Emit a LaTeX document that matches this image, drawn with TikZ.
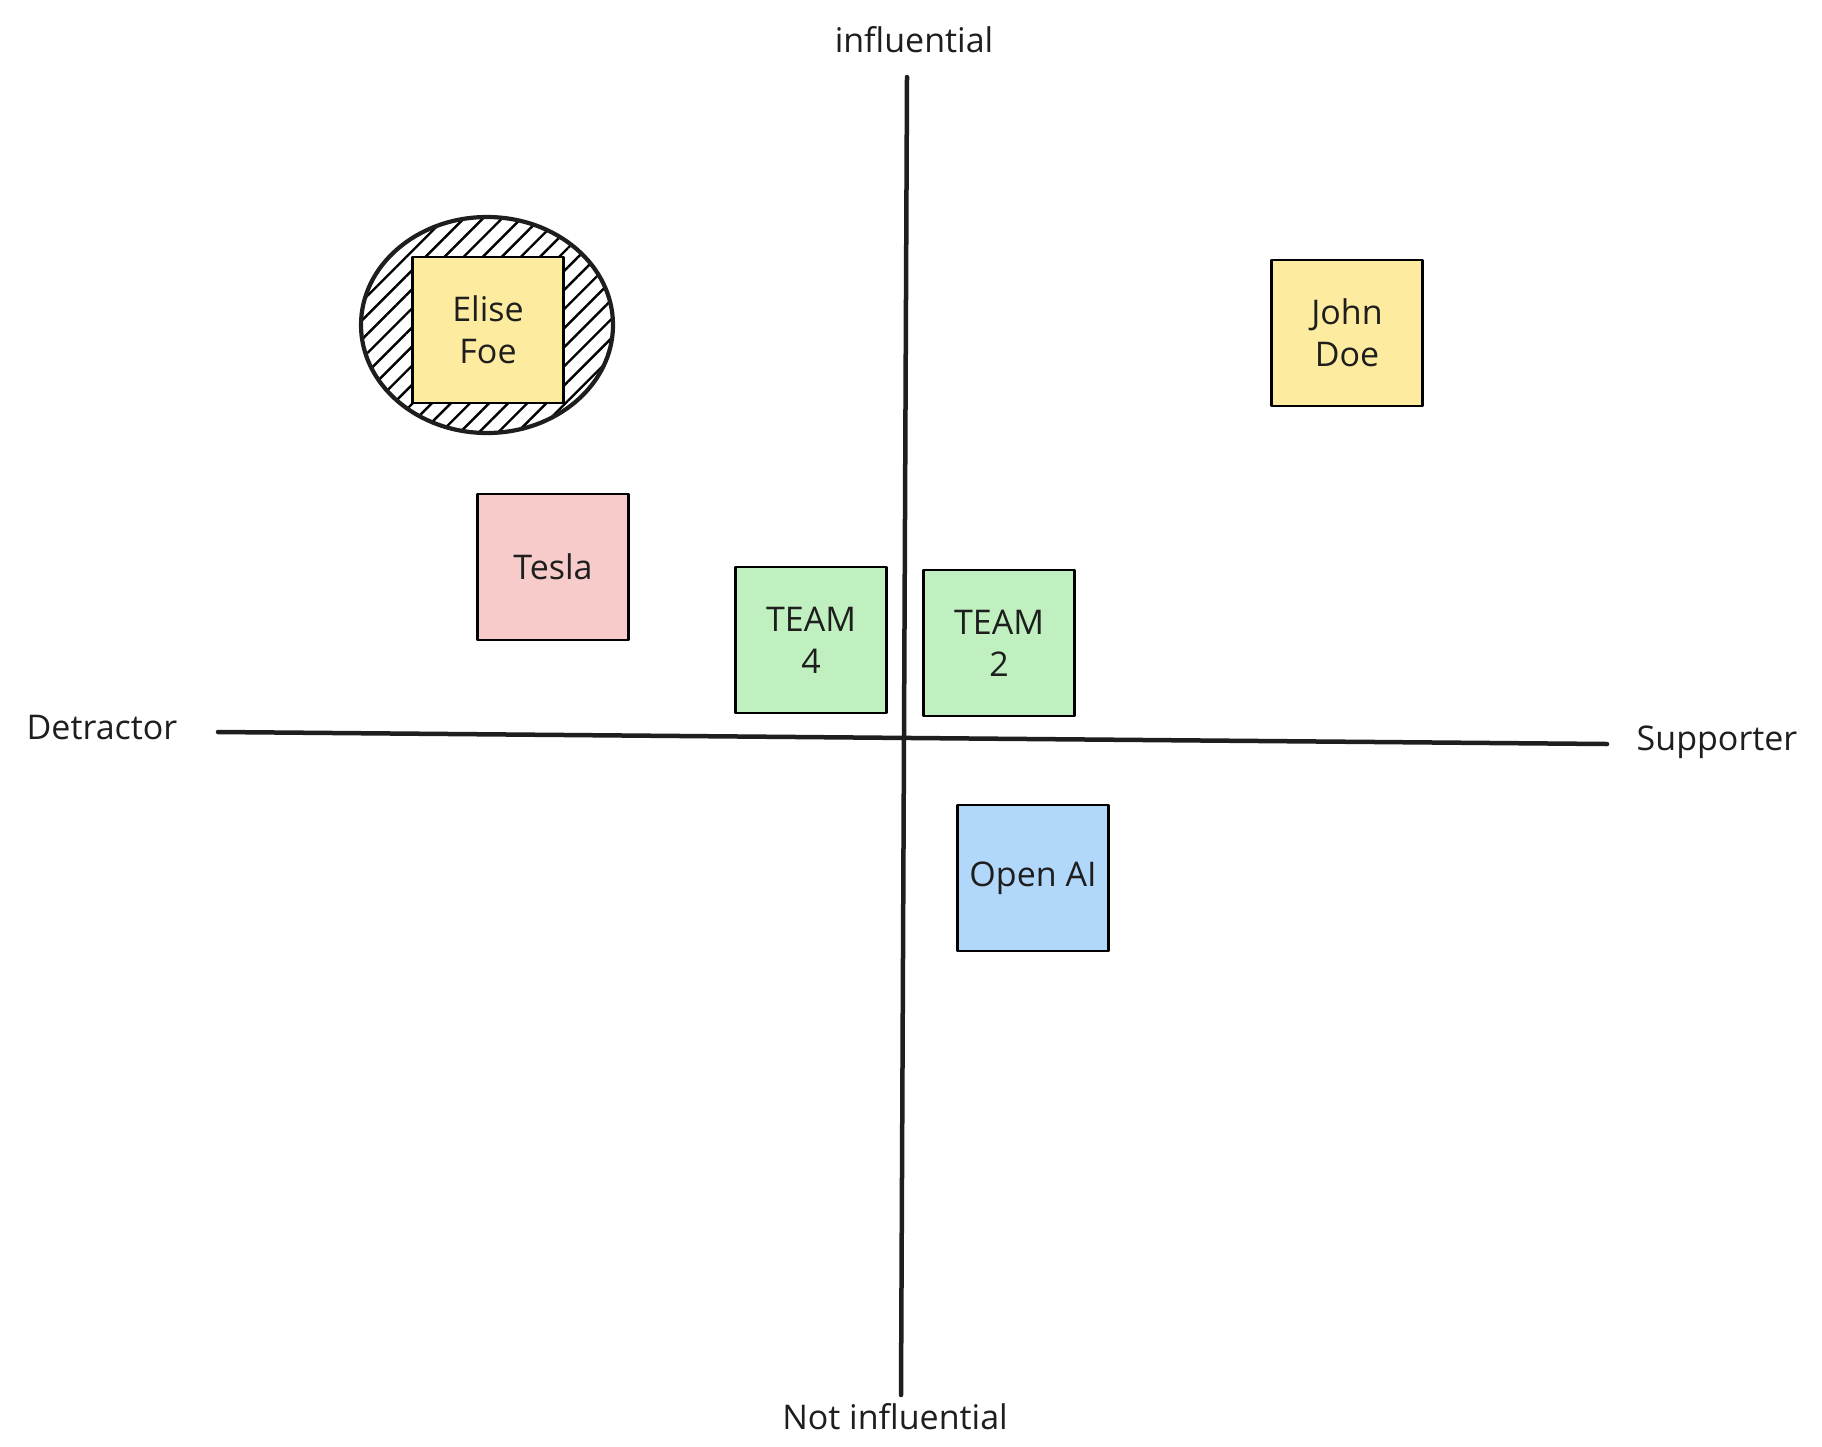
\documentclass[tikz,border=0pt]{standalone}
\usepackage{fontspec}
\setmainfont{Open Sans}
\usetikzlibrary{patterns.meta}
\definecolor{ink}{HTML}{1E1E1E}
\definecolor{noteyellow}{HTML}{FDECA0}
\definecolor{notepink}{HTML}{F8CBCB}
\definecolor{notegreen}{HTML}{C0F0C0}
\definecolor{noteblue}{HTML}{B1D7FA}
\begin{document}
\begin{tikzpicture}[x=1pt,y=-1pt, line join = round, line cap = round,
	font=\fontsize{34}{42}\selectfont, text=ink,
	axis/.style={draw=ink, line width=4.5pt},
	sticky/.style={draw=black, line width=2.8pt, minimum width=151pt, minimum height=146pt, inner sep=0pt, align=center}]
	\fill[white] (0,0) rectangle (1822,1446);
	\useasboundingbox (0,0) rectangle (1822,1446);
	% axes
	\coordinate (xl) at (218,732);
	\coordinate (xr) at (1607,744);
	\coordinate (yt) at (907,77);
	\coordinate (yb) at (901,1395);
	\draw[axis] (xl) -- (xr);
	\draw[axis] (yt) -- (yb);
	\node (detractor) at (102,728) {Detractor};
	\node (supporter) at (1717,742) {Supporter};
	\node (infl) at (914,40) {influential};
	\node (notinfl) at (895,1417) {Not influential};
	% ring round Elise
	\draw[draw=ink, line width=4.2pt, pattern={Lines[angle=45,distance=13.5pt,line width=2.4pt]}] (487,325) ellipse [x radius=126, y radius=108];
	% notes
	\node[sticky, fill=noteyellow] (elise) at (488,330) {Elise\\ Foe};
	\node[sticky, fill=noteyellow] (john) at (1347,333) {John\\ Doe};
	\node[sticky, fill=notepink] (tesla) at (553,567) {Tesla};
	\node[sticky, fill=notegreen] (team4) at (811,640) {TEAM\\ 4};
	\node[sticky, fill=notegreen] (team2) at (999,643) {TEAM\\ 2};
	\node[sticky, fill=noteblue] (openai) at (1033,878) {Open AI};
\end{tikzpicture}
\end{document}
